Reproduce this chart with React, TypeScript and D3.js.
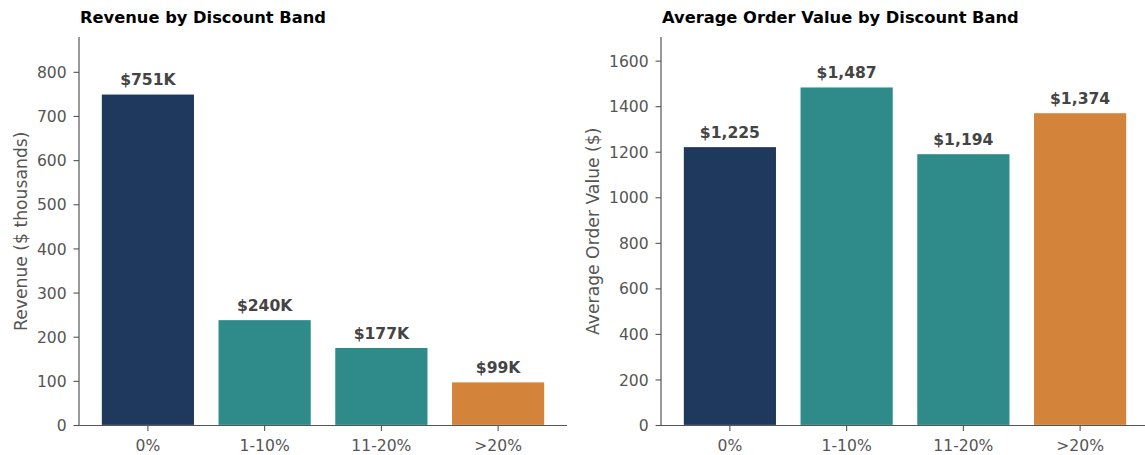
import React from "react";
import * as d3 from "d3";

// Discount bands shown on both panels
const bands = ["0%", "1-10%", "11-20%", ">20%"];
// Revenue per band, in $ thousands
const revenueK = [751, 240, 177, 99];
// Average order value per band, in $
const avgOrder = [1225, 1487, 1194, 1374];
// Fill per band
const bandColors = ["#1f385e", "#2e8b8a", "#2e8b8a", "#d4843a"];
// Y tick values
const revenueTicks = [0, 100, 200, 300, 400, 500, 600, 700, 800];
const aovTicks = [0, 200, 400, 600, 800, 1000, 1200, 1400, 1600];

const W = 1145;
const H = 455;
const FONT = "'DejaVu Sans', sans-serif";
const TICK_COLOR = "#555";
const SPINE_COLOR = "#555";
const LABEL_COLOR = "#444";

type PanelProps = {
  left: number;
  right: number;
  top: number;
  bottom: number;
  yMax: number;
  values: number[];
  ticks: number[];
  title: string;
  yLabel: string;
  yLabelX: number;
  fmt: (v: number) => string;
};

function Panel({ left, right, top, bottom, yMax, values, ticks, title, yLabel, yLabelX, fmt }: PanelProps) {
  const x = d3.scaleBand<string>().domain(bands).range([left, right]).paddingInner(0.2).paddingOuter(0.19);
  const y = d3.scaleLinear().domain([0, yMax]).range([bottom, top]);
  const midY = (top + bottom) / 2;
  return (
    <g fontFamily={FONT}>
      <text x={left + 1} y={23} fontSize={16.3} fontWeight="bold" fill="#000">
        {title}
      </text>
      {values.map((v, i) => {
        const bx = x(bands[i]) as number;
        const bw = x.bandwidth();
        return (
          <g key={bands[i]}>
            <rect
              x={bx}
              y={y(v)}
              width={bw}
              height={y(0) - y(v)}
              fill={bandColors[i]}
              stroke="#fff"
              strokeWidth={1.2}
            />
            <text
              x={bx + bw / 2}
              y={y(v) - 8.5}
              textAnchor="middle"
              fontSize={15.6}
              fontWeight="bold"
              fill={LABEL_COLOR}
            >
              {fmt(v)}
            </text>
          </g>
        );
      })}
      {/* y axis */}
      <line x1={left} x2={left} y1={top} y2={bottom} stroke={SPINE_COLOR} strokeWidth={1.2} />
      {ticks.map((t) => (
        <g key={t} transform={`translate(0,${y(t)})`}>
          <line x1={left - 5.5} x2={left} stroke={SPINE_COLOR} strokeWidth={1.1} />
          <text x={left - 12.3} dy="0.36em" textAnchor="end" fontSize={15.6} fill={TICK_COLOR}>
            {t}
          </text>
        </g>
      ))}
      {/* x axis */}
      <line x1={left} x2={right} y1={bottom} y2={bottom} stroke={SPINE_COLOR} strokeWidth={1.2} />
      {bands.map((b) => {
        const cx = (x(b) as number) + x.bandwidth() / 2;
        return (
          <g key={b} transform={`translate(${cx},${bottom})`}>
            <line y1={0} y2={5.5} stroke={SPINE_COLOR} strokeWidth={1.1} />
            <text y={25.5} textAnchor="middle" fontSize={15.6} fill={TICK_COLOR}>
              {b}
            </text>
          </g>
        );
      })}
      <text
        transform={`translate(${yLabelX},${midY}) rotate(-90)`}
        textAnchor="middle"
        dy="0.36em"
        fontSize={17.2}
        fill={TICK_COLOR}
      >
        {yLabel}
      </text>
    </g>
  );
}

export default function App() {
  return (
    <svg
      width={W}
      height={H}
      viewBox={`0 0 ${W} ${H}`}
      style={{ position: "absolute", left: 0, top: 0, background: "#fff" }}
    >
      <rect width={W} height={H} fill="#fff" />
      <Panel
        left={79}
        right={567}
        top={37}
        bottom={425.5}
        yMax={880}
        values={revenueK}
        ticks={revenueTicks}
        title="Revenue by Discount Band"
        yLabel="Revenue ($ thousands)"
        yLabelX={20.5}
        fmt={(v) => `$${v}K`}
      />
      <Panel
        left={661}
        right={1149}
        top={37}
        bottom={425.5}
        yMax={1706}
        values={avgOrder}
        ticks={aovTicks}
        title="Average Order Value by Discount Band"
        yLabel="Average Order Value ($)"
        yLabelX={593}
        fmt={(v) => `$${d3.format(",")(v)}`}
      />
    </svg>
  );
}
